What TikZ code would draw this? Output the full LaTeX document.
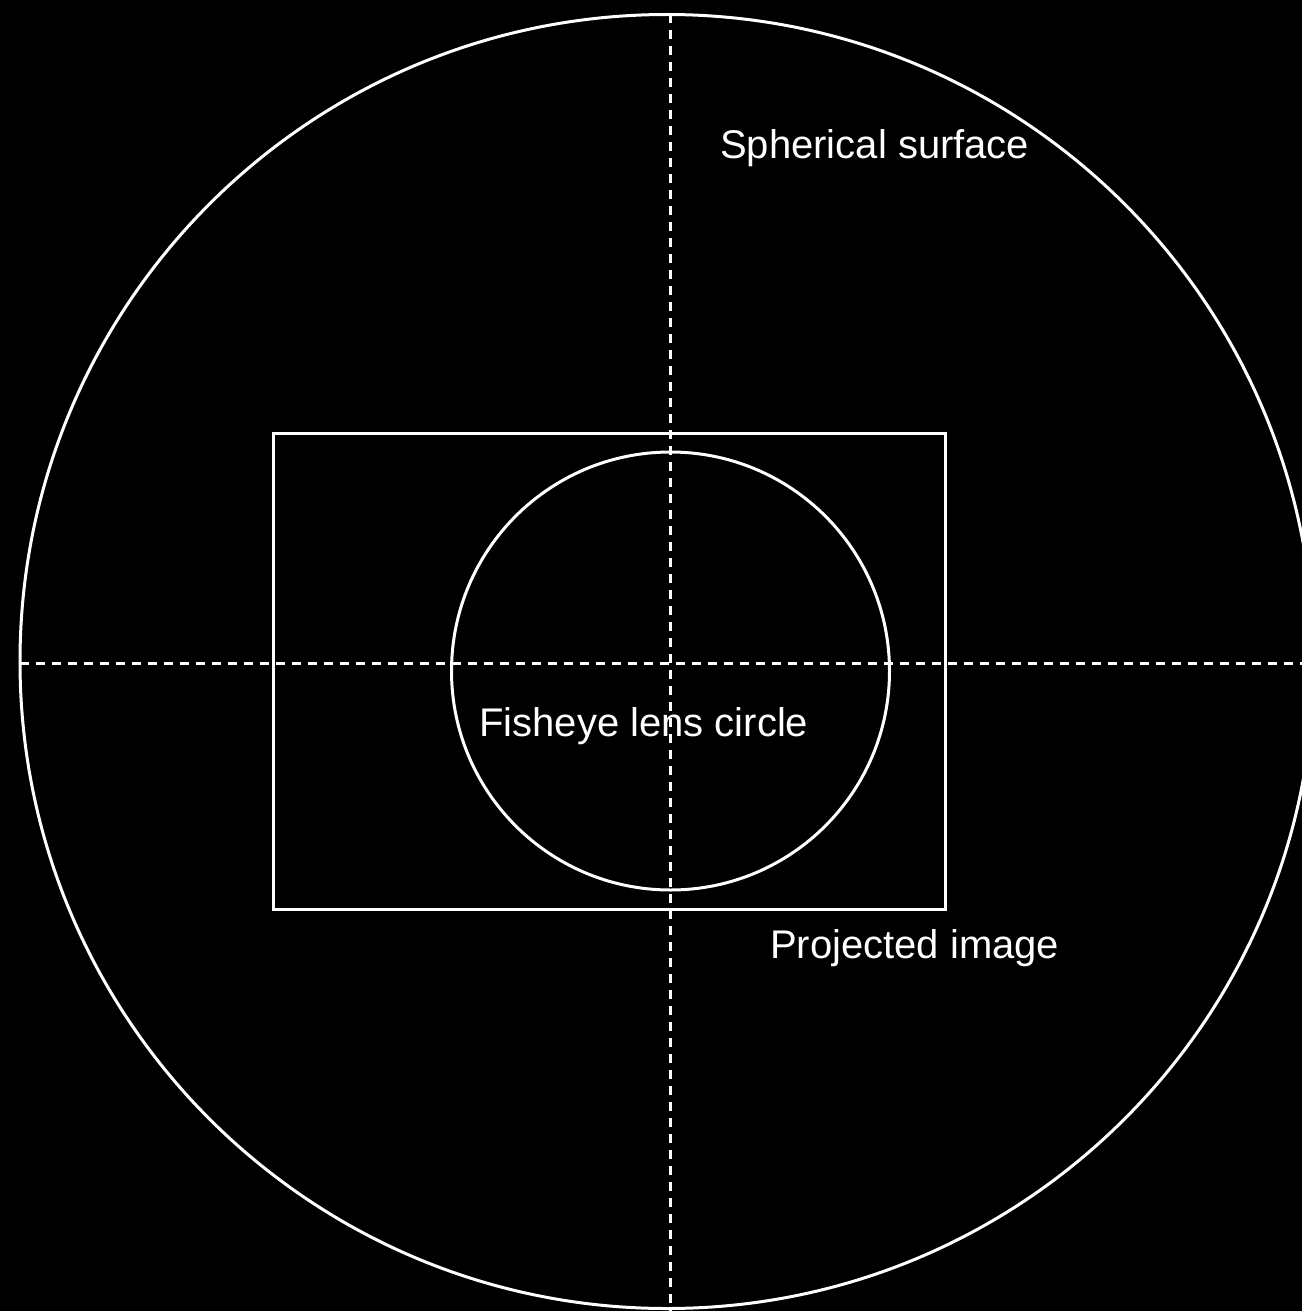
\documentclass[tikz,border=0pt]{standalone}
\usepackage{fontspec}
\setmainfont{Liberation Sans}
\begin{document}
\begin{tikzpicture}[x=1pt,y=-1pt,
  lineart/.style={draw=white,line width=3pt},
  dashline/.style={draw=white,line width=3pt,dash pattern=on 9pt off 7pt},
  lbl/.style={text=white,anchor=west,inner sep=0pt,font=\fontsize{40}{48}\selectfont}]
\useasboundingbox (0,0) rectangle (1302,1311);
\fill[black] (0,0) rectangle (1302,1311);
\begin{scope}
\clip (0,0) rectangle (1302,1311);
\draw[lineart] (667,661.5) circle (647);
\coordinate (hl) at (20,663);
\coordinate (hr) at (1302,663);
\coordinate (vt) at (670,14);
\coordinate (vb) at (670,1311);
\draw[dashline] (hl) -- (hr);
\draw[dashline] (vt) -- (vb);
\draw[lineart] (273,433) rectangle (945,909);
\draw[lineart] (670.5,671) circle (219);
\end{scope}
\node[lbl] (sph) at (720,148) {Spherical surface};
\node[lbl] (fish) at (479,726) {Fisheye lens circle};
\node[lbl] (proj) at (770,948) {Projected image};
\end{tikzpicture}
\end{document}
